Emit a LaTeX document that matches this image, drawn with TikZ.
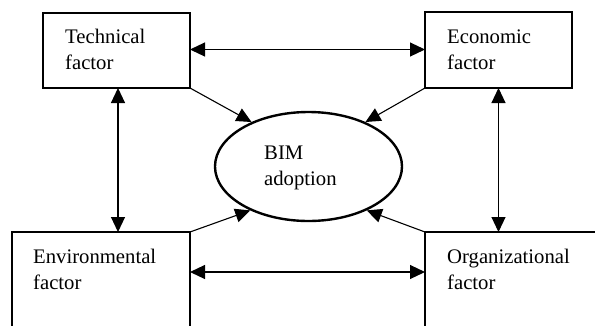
\documentclass[tikz,border=0pt]{standalone}
\usepackage{fontspec}
\setmainfont{Liberation Serif}
\usetikzlibrary{arrows.meta,shapes.geometric}
\begin{document}
\begin{tikzpicture}[x=1pt,y=-1pt,
  factorbox/.style={draw,line width=2.8pt,rectangle,inner sep=0pt,outer sep=0pt},
  lbl/.style={inner sep=0pt,anchor=base west,text width=150pt,align=left,
    font=\fontsize{20.7}{26.5}\selectfont},
  conn/.style={line width=1.1pt,-{Triangle[length=15pt,width=14pt]}},
  dconn/.style={line width=1.1pt,{Triangle[length=15pt,width=14pt]}-{Triangle[length=15pt,width=14pt]}}]
\useasboundingbox (0,0) rectangle (595,325);
\clip (0,0) rectangle (595,325);
\fill[white] (0,0) rectangle (595,325);
% boxes
\node[factorbox,minimum width=147pt,minimum height=75pt] (tech) at (116.5,50.5) {};
\node[factorbox,minimum width=147pt,minimum height=76pt] (eco) at (498.5,50) {};
\node[factorbox,minimum width=178pt,minimum height=110pt] (env) at (101,287) {};
\node[factorbox,minimum width=180pt,minimum height=110pt] (org) at (515,287) {};
\node[draw,ellipse,line width=2.4pt,minimum width=187pt,minimum height=109pt,inner sep=0pt] (bim) at (308.5,166.5) {};
% labels
\node[lbl] (techt) at (65,43) {Technical\\factor};
\node[lbl] (ecot) at (447,43) {Economic\\factor};
\node[lbl] (envt) at (33,263) {Environmental\\factor};
\node[lbl] (orgt) at (447,263) {Organizational\\factor};
\node[lbl] (bimt) at (264,159) {BIM\\adoption};
% connectors
\draw[dconn] ([yshift=1pt]tech.east) -- ([yshift=1pt]tech.east -| eco.west);
\draw[dconn] ([yshift=15pt]env.east) -- ([yshift=15pt]env.east -| org.west);
\draw[dconn] ([xshift=1.5pt]tech.south) -- ([xshift=1.5pt]tech.south |- env.north);
\draw[dconn] (eco.south) -- (eco.south |- org.north);
\draw[conn] (tech.south east) -- (bim.142);
\draw[conn] (eco.south west) -- (bim.38);
\draw[conn] (env.north east) -- (bim.217);
\draw[conn] (org.north west) -- (bim.323);
\end{tikzpicture}
\end{document}
